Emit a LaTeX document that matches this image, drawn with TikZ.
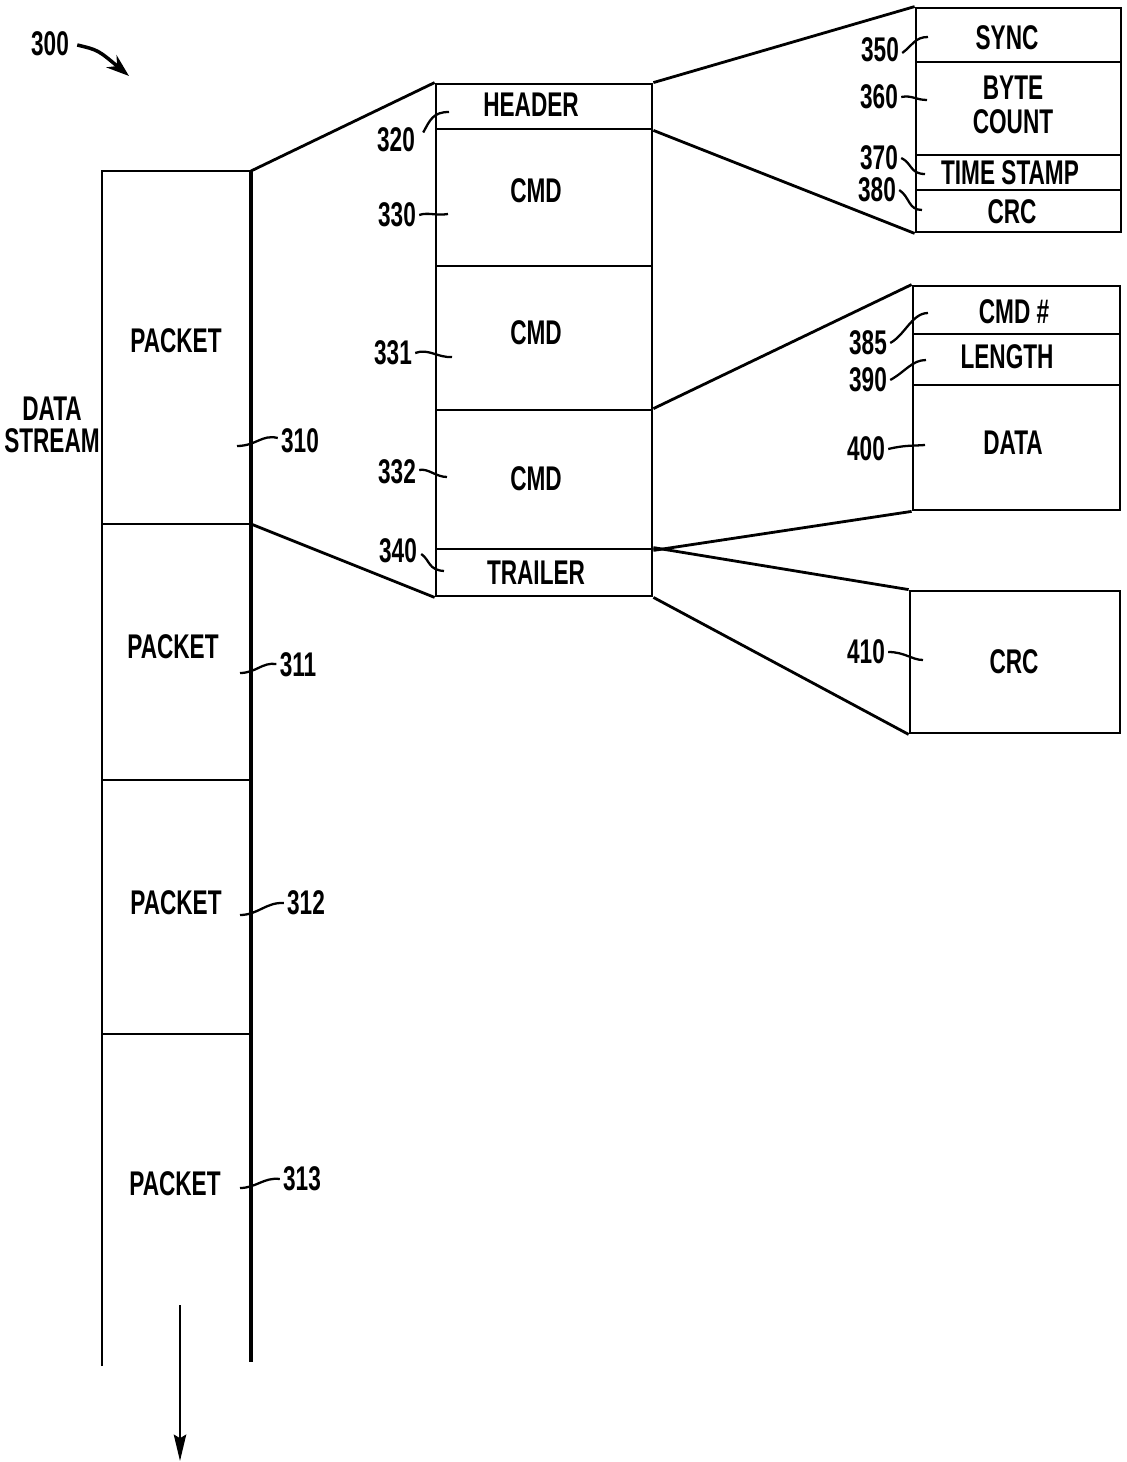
\documentclass[tikz,border=0pt]{standalone}
\usepackage{fontspec}
\setmainfont{Liberation Sans}[FakeStretch=0.66]
\usetikzlibrary{fit,arrows.meta}
\begin{document}
\begin{tikzpicture}[x=0.02cm,y=-0.02cm,
  txt/.style={font=\fontsize{19.5pt}{19.3pt}\selectfont\bfseries, inner sep=0pt, align=center},
  fld/.style={draw, line width=1.6pt, inner sep=0pt},
  num/.style={font=\fontsize{19.5pt}{19.5pt}\selectfont\bfseries, inner sep=0pt},
  ldr/.style={line width=1.3pt},
  wire/.style={line width=1.6pt},
  thickwire/.style={line width=2.7pt}]
\useasboundingbox (0,0) rectangle (1126,1462);

% data stream
\coordinate (s0L) at (102,171); \coordinate (s0R) at (251,171);
\coordinate (s1L) at (102,524); \coordinate (s1R) at (251,524);
\coordinate (s2L) at (102,780); \coordinate (s2R) at (251,780);
\coordinate (s3L) at (102,1034); \coordinate (s3R) at (251,1034);
\coordinate (sEL) at (102,1366); \coordinate (sER) at (251,1362);
\draw[wire] (sEL) -- (s0L) -- (s0R);
\draw[thickwire] (s0R) -- (sER);
\draw[wire] (s1L) -- (s1R);
\draw[wire] (s2L) -- (s2R);
\draw[wire] (s3L) -- (s3R);

\node[txt] (p0) at (176,341) {PACKET};
\node[txt] (p1) at (173,647) {PACKET};
\node[txt] (p2) at (176,903) {PACKET};
\node[txt] (p3) at (175,1184) {PACKET};
\node[txt, font=\fontsize{19.5pt}{18.2pt}\selectfont\bfseries] (ds) at (52,425) {DATA\\STREAM};

% figure label
\node[num] (n300) at (50,44) {300};
\coordinate (a300) at (129,76);
\draw[line width=2pt,-{Stealth[length=13pt,width=9pt]}] (n300.east) ++(8,1) .. controls (98,50) .. (a300);

% downward arrow
\coordinate (dTop) at (180,1305);
\coordinate (dBot) at (180,1461);
\draw[line width=1.4pt,-{Stealth[length=15pt,width=7pt,inset=2pt]}] (dTop) -- (dBot);

% packet box
\node[fld, fit={(436,84) (652,129)}] (hdr) {};
\node[fld, fit={(436,129) (652,266)}] (cmdA) {};
\node[fld, fit={(436,266) (652,410)}] (cmdB) {};
\node[fld, fit={(436,410) (652,549)}] (cmdC) {};
\node[fld, fit={(436,549) (652,596)}] (trl) {};
\node[txt] (hdrT) at (531,105) {HEADER};
\node[txt] (cmdAT) at (536,191) {CMD};
\node[txt] (cmdBT) at (536,333) {CMD};
\node[txt] (cmdCT) at (536,479) {CMD};
\node[txt] (trlT) at (536,573) {TRAILER};
\draw[wire] (s0R) -- (hdr.north west);
\draw[wire] (s1R) -- (trl.south west);

% header box
\node[fld, fit={(916,8) (1121,62)}] (sync) {};
\node[fld, fit={(916,62) (1121,155)}] (bc) {};
\node[fld, fit={(916,155) (1121,190)}] (ts) {};
\node[fld, fit={(916,190) (1121,232)}] (crcA) {};
\node[txt] (syncT) at (1007,38) {SYNC};
\node[txt] (bcT) at (1013,105) {BYTE\\COUNT};
\node[txt] (tsT) at (1010,173) {TIME STAMP};
\node[txt] (crcAT) at (1012,212) {CRC};
\draw[wire] (hdr.north east) -- (sync.north west);
\draw[wire] (hdr.south east) -- (crcA.south west);

% command box
\node[fld, fit={(913,286) (1120,334)}] (cnum) {};
\node[fld, fit={(913,334) (1120,385)}] (len) {};
\node[fld, fit={(913,385) (1120,510)}] (dat) {};
\node[txt] (cnumT) at (1014,312) {CMD \#};
\node[txt] (lenT) at (1007,357) {LENGTH};
\node[txt] (datT) at (1013,443) {DATA};
\draw[wire] (cmdC.north east) -- (cnum.north west);
\draw[wire] (cmdC.south east) -- (dat.south west);

% trailer box
\node[fld, fit={(910,591) (1120,733)}] (crcB) {};
\node[txt] (crcBT) at (1014,662) {CRC};
\draw[wire] (trl.north east) -- (crcB.north west);
\draw[wire] (trl.south east) -- (crcB.south west);

% reference numerals
\node[num] (n310) at (300,441) {310};
\node[num] (n311) at (298,665) {311};
\node[num] (n312) at (306,903) {312};
\node[num] (n313) at (302,1179) {313};
\node[num] (n320) at (396,140) {320};
\node[num] (n330) at (397,215) {330};
\node[num] (n331) at (393,353) {331};
\node[num] (n332) at (397,472) {332};
\node[num] (n340) at (398,551) {340};
\node[num] (n350) at (880,50) {350};
\node[num] (n360) at (879,97) {360};
\node[num] (n370) at (879,158) {370};
\node[num] (n380) at (877,190) {380};
\node[num] (n385) at (868,343) {385};
\node[num] (n390) at (868,380) {390};
\node[num] (n400) at (866,449) {400};
\node[num] (n410) at (866,652) {410};

\coordinate (t310) at (237,446);
\coordinate (t311) at (240,673);
\coordinate (t312) at (240,915);
\coordinate (t313) at (240,1188);
\coordinate (t320) at (449,112);
\coordinate (t330) at (448,214);
\coordinate (t331) at (452,357);
\coordinate (t332) at (447,477);
\coordinate (t340) at (444,571);
\coordinate (t350) at (928,37);
\coordinate (t360) at (927,100);
\coordinate (t370) at (925,174);
\coordinate (t380) at (922,210);
\coordinate (t385) at (928,313);
\coordinate (t390) at (926,360);
\coordinate (t400) at (925,445);
\coordinate (t410) at (923,660);

\draw[ldr] (n310.west) ++(-3,-3) .. controls (262,434) and (256,446) .. (t310);
\draw[ldr] (n311.west) ++(-3,-1) .. controls (262,662) and (256,673) .. (t311);
\draw[ldr] (n312.west) ++(-3,0) .. controls (266,902) and (258,915) .. (t312);
\draw[ldr] (n313.west) ++(-3,0) .. controls (264,1177) and (256,1188) .. (t313);
\draw[ldr] (n320.north east) ++(8,5) .. controls (430,120) and (433,112) .. (t320);
\draw[ldr] (n330.east) ++(3,0) .. controls (428,212) and (436,216) .. (t330);
\draw[ldr] (n331.east) ++(3,0) .. controls (428,348) and (438,358) .. (t331);
\draw[ldr] (n332.east) ++(3,-2) .. controls (428,468) and (436,477) .. (t332);
\draw[ldr] (n340.east) ++(4,3) .. controls (430,560) and (428,570) .. (t340);
\draw[ldr] (n350.east) ++(3,3) .. controls (913,45) and (915,37) .. (t350);
\draw[ldr] (n360.east) ++(3,0) .. controls (912,95) and (916,100) .. (t360);
\draw[ldr] (n370.east) ++(3,0) .. controls (912,163) and (910,174) .. (t370);
\draw[ldr] (n380.east) ++(3,0) .. controls (910,197) and (908,210) .. (t380);
\draw[ldr] (n385.east) ++(3,0) .. controls (905,335) and (912,313) .. (t385);
\draw[ldr] (n390.east) ++(3,0) .. controls (905,372) and (912,360) .. (t390);
\draw[ldr] (n400.east) ++(3,0) .. controls (905,445) and (912,446) .. (t400);
\draw[ldr] (n410.east) ++(3,0) .. controls (905,652) and (912,660) .. (t410);
\end{tikzpicture}
\end{document}
